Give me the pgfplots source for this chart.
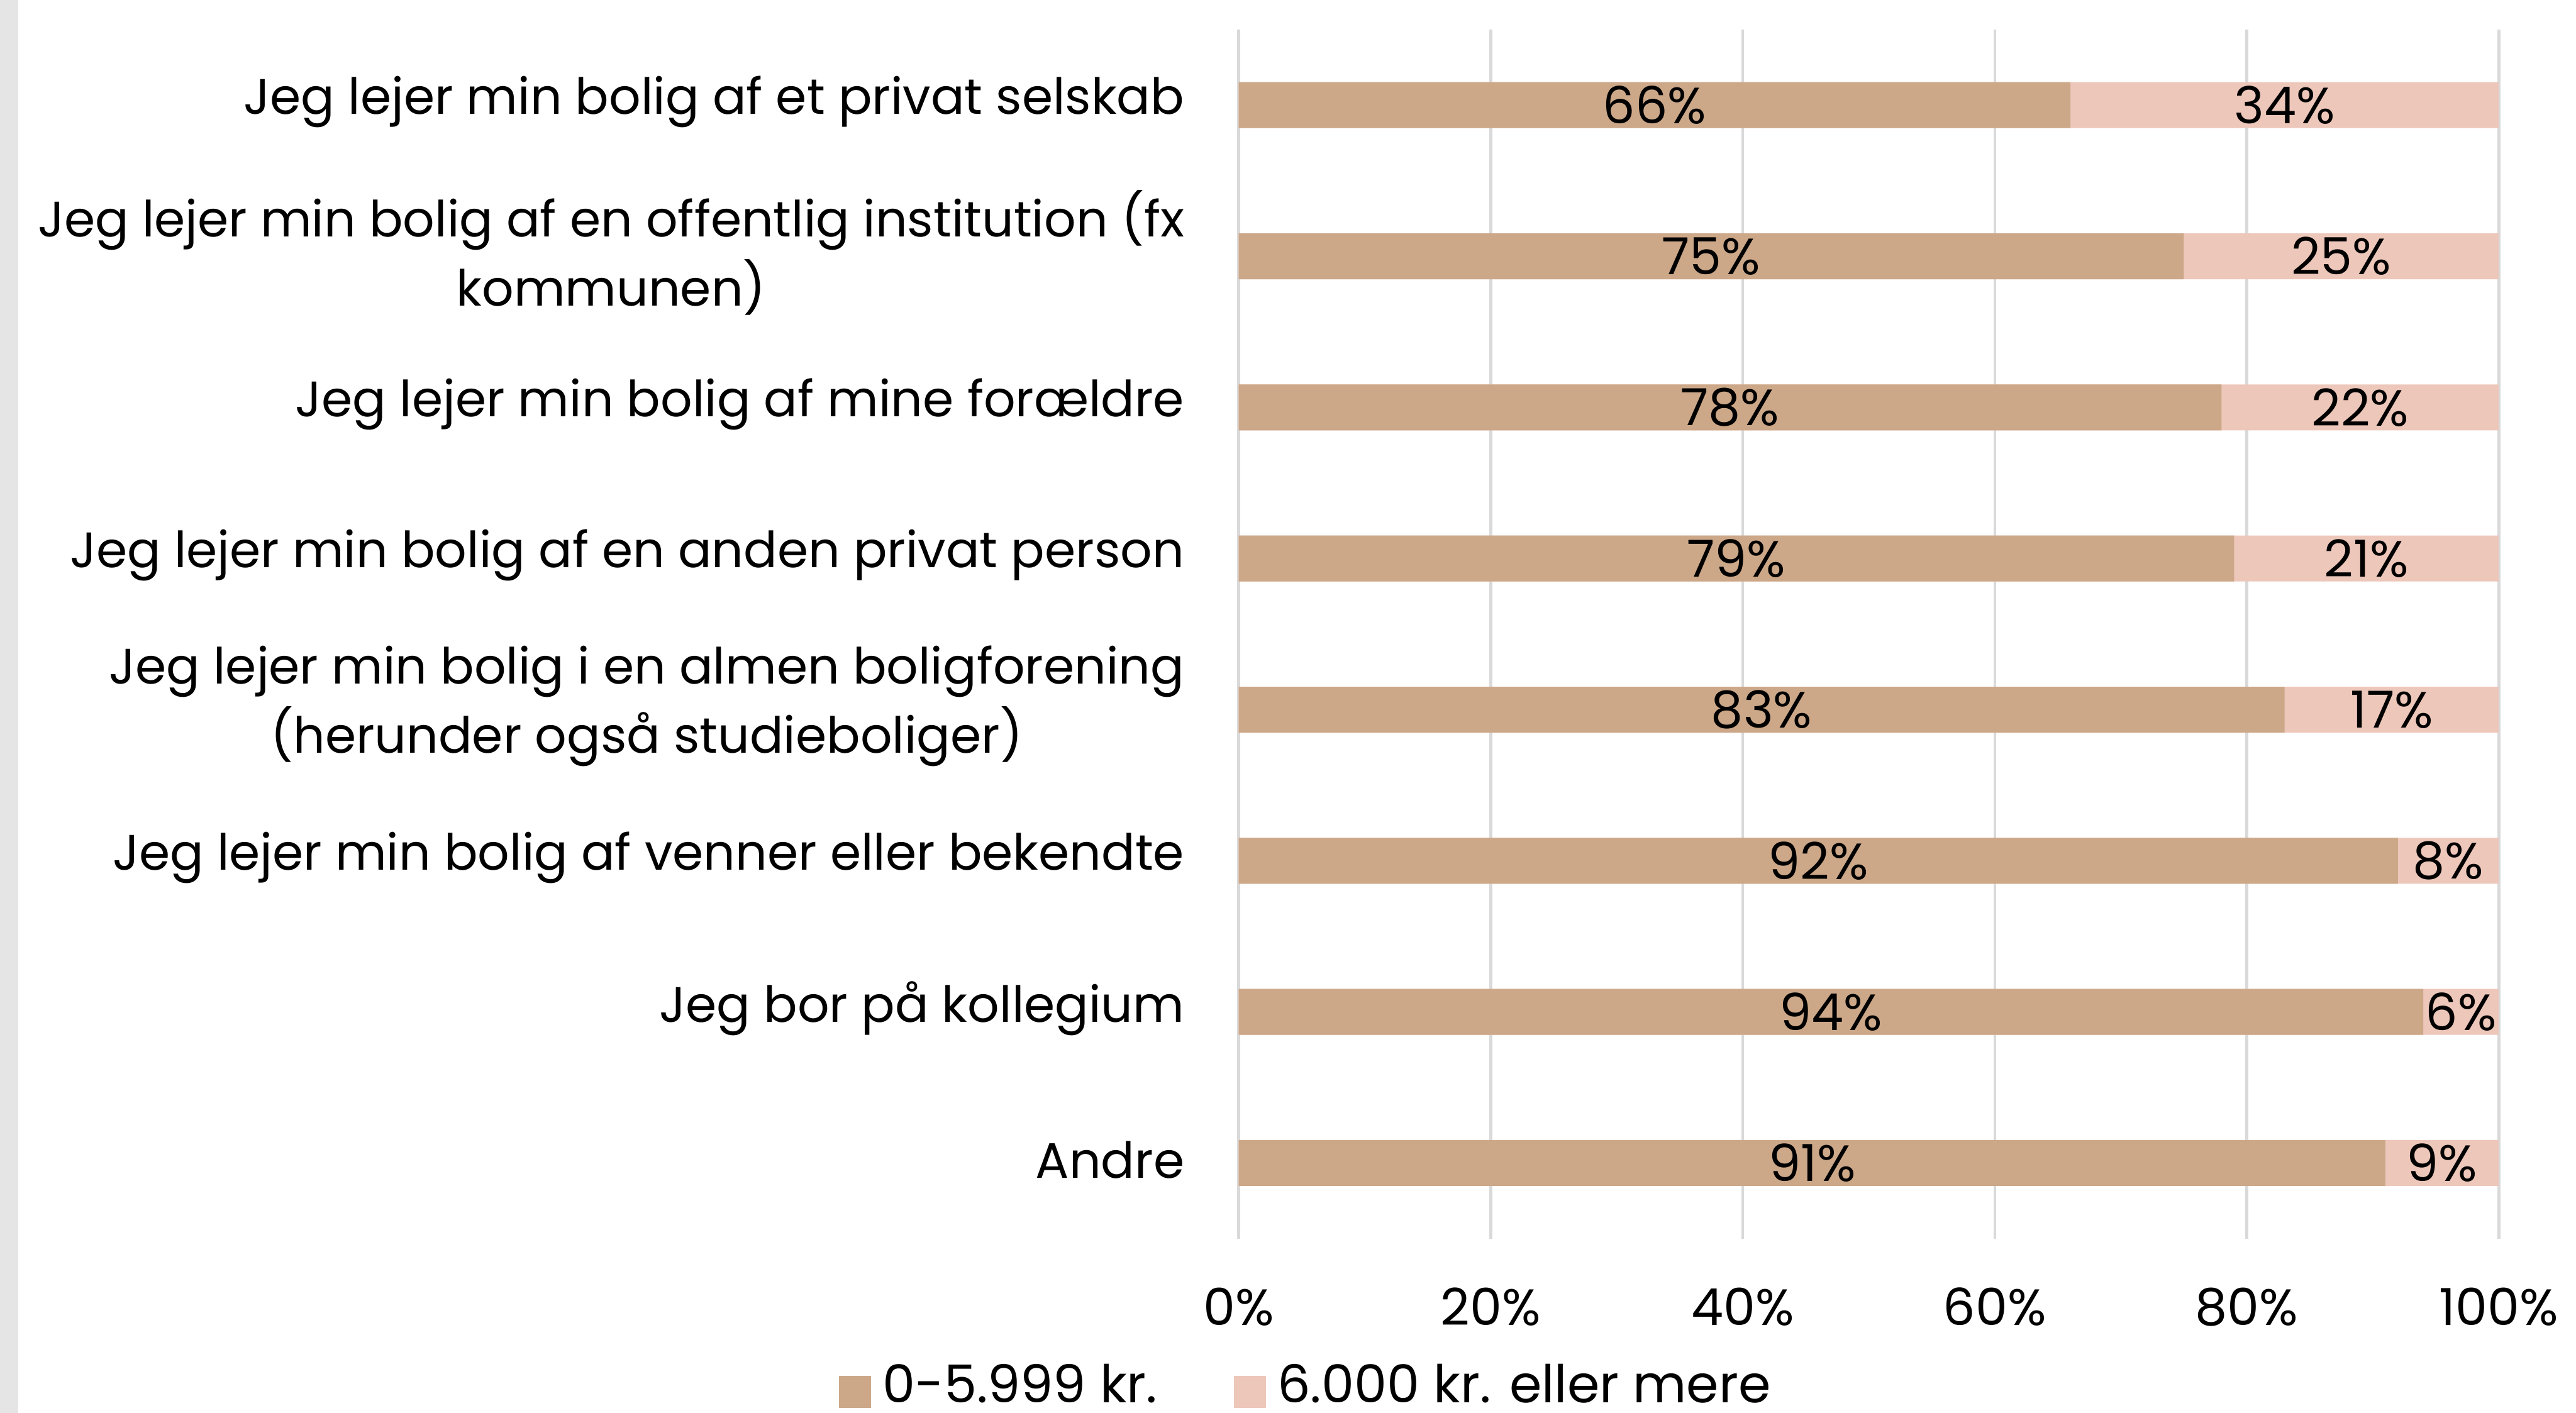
\documentclass[border=0pt]{standalone}
\usepackage{fontspec}
\setmainfont{Poppins}
\usepackage{pgfplots}
\pgfplotsset{compat=1.18}
\definecolor{brownc}{RGB}{204,168,137}
\definecolor{pinkc}{RGB}{237,199,186}
\definecolor{gridc}{RGB}{217,217,217}
\newcommand{\lbl}{\fontsize{9}{12.2}\selectfont}
\newcommand{\ylbl}{\fontsize{8.8}{12.2}\selectfont}
\newcommand{\leglbl}{\fontsize{9.2}{12.2}\selectfont}
\begin{document}
\begin{tikzpicture}
\useasboundingbox (0,0) rectangle (454.72pt,249.4pt);
\fill[black!10] (0,0) rectangle (3.2pt,249.4pt);
\begin{axis}[
  at={(218.66pt,30.74pt)}, anchor=south west,
  scale only axis, width=222.43pt, height=213.44pt,
  xmin=0, xmax=100, ymin=-0.5, ymax=7.5, y dir=reverse,
  axis line style={draw=none}, tick style={draw=none},
  major tick length=0pt,
  xmajorgrids, grid style={gridc, line width=0.5pt},
  xtick={0,20,40,60,80,100},
  xticklabels={0\%,20\%,40\%,60\%,80\%,100\%},
  ytick={0,1,2,3,4,5,6,7},
  yticklabels={
    {Jeg lejer min bolig af et privat selskab},
    {Jeg lejer min bolig af en offentlig institution (fx\\kommunen)},
    {Jeg lejer min bolig af mine forældre},
    {Jeg lejer min bolig af en anden privat person},
    {Jeg lejer min bolig i en almen boligforening\\(herunder også studieboliger)},
    {Jeg lejer min bolig af venner eller bekendte},
    {Jeg bor på kollegium},
    {Andre}},
  xticklabel style={font=\lbl, anchor=north, inner sep=0pt, yshift=-8.5pt},
  yticklabel style={font=\ylbl, align=center, anchor=east, inner sep=0pt, xshift=-9.4pt, yshift=0.6pt},
  bar width=8.1pt, bar shift=0pt,
  legend image code/.code={\fill[#1] (0pt,-3.6pt) rectangle (5.7pt,2.0pt);},
  legend style={at={(0.057,-0.123)}, anchor=center, legend columns=2,
    draw=none, fill=none, font=\leglbl, inner sep=0pt,
    /tikz/every even column/.append style={column sep=11.5pt}},
]
\addplot[xbar, fill=pinkc, draw=none, forget plot] coordinates {
  (100,0) (100,1) (100,2) (100,3) (100,4) (100,5) (100,6) (100,7)};
\addplot[xbar, fill=brownc, draw=none, forget plot] coordinates {
  (66,0) (75,1) (78,2) (79,3) (83,4) (92,5) (94,6) (91,7)};
\addplot[draw=none, mark=none, forget plot, nodes near coords,
  point meta=explicit symbolic,
  every node near coord/.style={anchor=center, inner sep=0pt, font=\lbl, text=black}]
  coordinates {
  (33,0) [66\%] (83,0) [34\%]
  (37.5,1) [75\%] (87.5,1) [25\%]
  (39,2) [78\%] (89,2) [22\%]
  (39.5,3) [79\%] (89.5,3) [21\%]
  (41.5,4) [83\%] (91.5,4) [17\%]
  (46,5) [92\%] (96,5) [8\%]
  (47,6) [94\%] (97,6) [6\%]
  (45.5,7) [91\%] (95.5,7) [9\%]
  };
\addlegendimage{fill=brownc, draw=none}
\addlegendentry{0-5.999 kr.}
\addlegendimage{fill=pinkc, draw=none}
\addlegendentry{6.000 kr. eller mere}
\end{axis}
\end{tikzpicture}
\end{document}
